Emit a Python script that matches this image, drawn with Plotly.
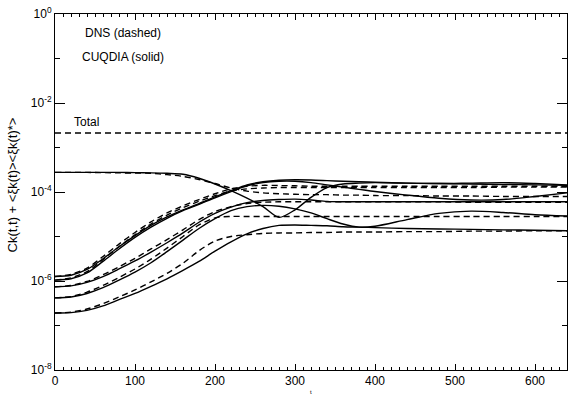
import numpy as np
import plotly.graph_objects as go

# time samples (x axis)
t = [0, 20, 40, 60, 80, 100, 120, 140, 160, 180, 200, 220, 240, 260, 280, 300,
     320, 340, 360, 380, 400, 440, 480, 520, 560, 600, 640]

# values, given as log10 of Ck(t,t) + <xi><xi*>
A_cuqdia = [-5.90, -5.87, -5.74, -5.50, -5.23, -4.98, -4.75, -4.56, -4.40, -4.26, -4.11, -3.97, -3.84,
            -3.77, -3.735, -3.725, -3.73, -3.745, -3.76, -3.77, -3.78, -3.80, -3.81, -3.80, -3.79, -3.81, -3.84]
A_dns = [-5.90, -5.85, -5.71, -5.45, -5.17, -4.91, -4.67, -4.47, -4.31, -4.17, -4.04, -3.93, -3.87,
         -3.85, -3.855, -3.86, -3.87, -3.87, -3.87, -3.87, -3.87, -3.87, -3.87, -3.87, -3.87, -3.87, -3.87]
B_cuqdia = [-5.98, -5.95, -5.82, -5.56, -5.28, -5.02, -4.79, -4.59, -4.42, -4.28, -4.13, -3.99, -3.86,
            -3.79, -3.76, -3.76, -3.79, -3.84, -3.89, -3.94, -3.99, -4.07, -4.14, -4.18, -4.17, -4.10, -4.02]
B_dns = [-5.98, -5.93, -5.79, -5.52, -5.23, -4.96, -4.72, -4.52, -4.35, -4.21, -4.08, -3.98, -3.93,
         -3.91, -3.90, -3.90, -3.90, -3.90, -3.90, -3.90, -3.90, -3.90, -3.90, -3.90, -3.89, -3.89, -3.89]
C_cuqdia = [-6.13, -6.11, -6.03, -5.90, -5.73, -5.55, -5.35, -5.14, -4.92, -4.68, -4.48, -4.34, -4.24,
            -4.19, -4.17, -4.16, -4.18, -4.21, -4.22, -4.22, -4.22, -4.22, -4.22, -4.22, -4.22, -4.22, -4.22]
C_dns = [-6.13, -6.10, -6.01, -5.86, -5.68, -5.49, -5.28, -5.07, -4.85, -4.62, -4.44, -4.33, -4.26,
         -4.23, -4.22, -4.22, -4.22, -4.22, -4.22, -4.22, -4.22, -4.22, -4.22, -4.23, -4.23, -4.23, -4.23]
D_cuqdia = [-6.38, -6.36, -6.28, -6.15, -5.98, -5.80, -5.59, -5.34, -5.08, -4.82, -4.60, -4.42, -4.33,
            -4.30, -4.32, -4.38, -4.47, -4.60, -4.72, -4.79, -4.77, -4.62, -4.48, -4.43, -4.46, -4.51, -4.54]
D_dns = [-6.38, -6.35, -6.25, -6.10, -5.92, -5.73, -5.51, -5.26, -5.00, -4.74, -4.58, -4.55, -4.55,
         -4.55, -4.55, -4.55, -4.55, -4.55, -4.55, -4.55, -4.55, -4.55, -4.55, -4.55, -4.55, -4.55, -4.55]
E_cuqdia = [-6.72, -6.71, -6.66, -6.56, -6.42, -6.28, -6.12, -5.95, -5.76, -5.56, -5.33, -5.12, -4.94,
            -4.82, -4.75, -4.74, -4.75, -4.76, -4.78, -4.79, -4.80, -4.82, -4.83, -4.84, -4.85, -4.86, -4.87]
E_dns = [-6.72, -6.70, -6.63, -6.51, -6.36, -6.20, -6.02, -5.83, -5.60, -5.32, -5.10, -5.00, -4.96,
         -4.93, -4.92, -4.92, -4.91, -4.91, -4.90, -4.90, -4.90, -4.89, -4.89, -4.88, -4.88, -4.87, -4.87]
F_cuqdia = [-3.56, -3.56, -3.56, -3.56, -3.56, -3.565, -3.57, -3.58, -3.60, -3.69, -3.82, -3.97, -4.14,
            -4.33, -4.57, -4.40, -4.12, -3.90, -3.82, -3.80, -3.79, -3.80, -3.81, -3.82, -3.83, -3.84, -3.85]
F_dns = [-3.56, -3.56, -3.56, -3.565, -3.57, -3.575, -3.58, -3.61, -3.65, -3.72, -3.81, -3.91, -3.98,
         -4.02, -4.04, -4.05, -4.06, -4.06, -4.07, -4.07, -4.08, -4.08, -4.09, -4.09, -4.10, -4.10, -4.10]
total_log = -2.674

solid_series = [A_cuqdia, B_cuqdia, C_cuqdia, D_cuqdia, E_cuqdia, F_cuqdia]
dashed_series = [A_dns, B_dns, C_dns, D_dns, E_dns, F_dns]

fig = go.Figure()
for s in dashed_series:
    fig.add_trace(go.Scatter(x=t, y=10 ** np.array(s), mode="lines",
                             line=dict(color="black", width=1.4, dash="6px,4px", shape="spline", smoothing=0.8),
                             showlegend=False, hoverinfo="skip"))
for s in solid_series:
    fig.add_trace(go.Scatter(x=t, y=10 ** np.array(s), mode="lines",
                             line=dict(color="black", width=1.4, shape="spline", smoothing=0.8),
                             showlegend=False, hoverinfo="skip"))
fig.add_trace(go.Scatter(x=[t[0], t[-1]], y=[10 ** total_log] * 2, mode="lines",
                         line=dict(color="black", width=1.4, dash="6px,4px"),
                         showlegend=False, hoverinfo="skip"))

font = "Liberation Sans, Arial, sans-serif"
major_y = [1e-8, 1e-6, 1e-4, 1e-2, 1e0]
major_y_text = ["10<sup>-8</sup>", "10<sup>-6</sup>", "10<sup>-4</sup>", "10<sup>-2</sup>", "10<sup>0</sup>"]

fig.update_layout(
    width=569, height=397,
    margin=dict(l=55, r=2, t=14, b=27),
    paper_bgcolor="white", plot_bgcolor="white",
    font=dict(family=font, size=12, color="black"),
    xaxis=dict(range=[0, 640], showgrid=False, zeroline=False, showline=True, linecolor="black",
               linewidth=1, mirror="allticks", ticks="inside", ticklen=6, tickcolor="black",
               tickmode="array", tickvals=[0, 100, 200, 300, 400, 500, 600],
               ticktext=["0", "100", "200", "300", "400", "500", "600"],
               tickfont=dict(size=12),
               minor=dict(dtick=10, tick0=0, ticks="inside", ticklen=3, tickcolor="black", showgrid=False)),
    yaxis=dict(type="log", range=[-8, 0], showgrid=False, zeroline=False, showline=True, linecolor="black",
               linewidth=1, mirror="allticks", ticks="inside", ticklen=10, tickcolor="black",
               tickmode="array", tickvals=major_y, ticktext=major_y_text, tickfont=dict(size=12),
               minor=dict(tickmode="array", tickvals=[1e-7, 1e-5, 1e-3, 1e-1], ticks="inside",
                          ticklen=5, tickcolor="black", showgrid=False)),
    annotations=[
        dict(text="DNS (dashed)", xref="paper", yref="paper", x=0.055, y=0.947, xanchor="left",
             yanchor="middle", showarrow=False, font=dict(size=12)),
        dict(text="CUQDIA (solid)", xref="paper", yref="paper", x=0.049, y=0.879, xanchor="left",
             yanchor="middle", showarrow=False, font=dict(size=12)),
        dict(text="Total", xref="paper", yref="paper", x=0.033, y=0.697, xanchor="left",
             yanchor="middle", showarrow=False, font=dict(size=12)),
        dict(text="Ck(t,t) + &lt;ξk(t)&gt;&lt;ξk(t)*&gt;", xref="paper", yref="paper", x=0, y=0.52,
             xshift=-52, textangle=-90, showarrow=False, font=dict(size=13)),
        dict(text="t", xref="paper", yref="paper", x=0.5, y=0, yshift=-17, yanchor="top",
             showarrow=False, font=dict(size=6)),
    ],
)

fig.write_html("out.html")
